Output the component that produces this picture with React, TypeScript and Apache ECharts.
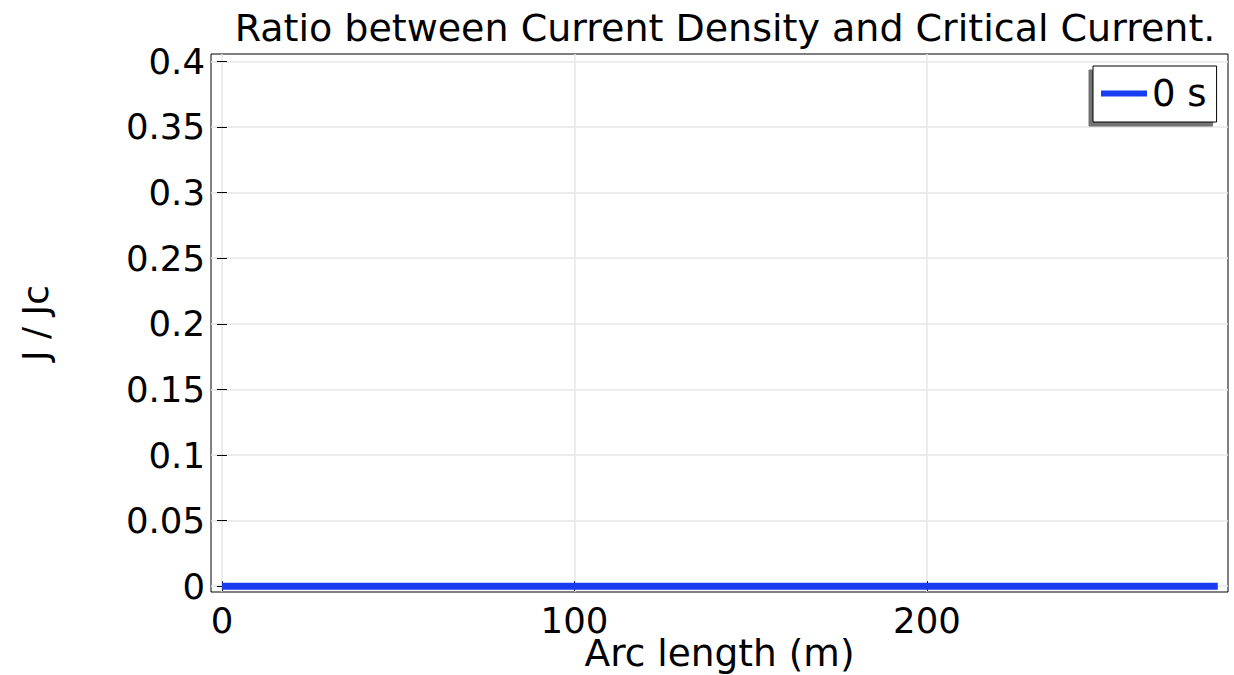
import React, { useEffect, useRef } from "react";
import * as echarts from "echarts";

// Arc length (m) along the conductor and J/Jc at t = 0 s
const arcLength: number[] = [0, 50, 100, 150, 200, 250, 282.5];
const ratio0s: number[] = [0, 0, 0, 0, 0, 0, 0];

const xTicks: number[] = [0, 100, 200];
const yTicks: number[] = [0, 0.05, 0.1, 0.15, 0.2, 0.25, 0.3, 0.35, 0.4];

const seriesName = "0 s";
const titleText = "Ratio between Current Density and Critical Current.";
const xName = "Arc length (m)";
const yName = "J / Jc";

const FONT = "DejaVu Sans";
const BLUE = "#1a3cf0";

export default function App() {
  const ref = useRef<HTMLDivElement>(null);

  useEffect(() => {
    if (!ref.current) return;
    const chart = echarts.init(ref.current, undefined, { renderer: "svg" });

    const xMin = -3.1;
    const xMax = 285.4;
    const yMin = -0.0044;
    const yMax = 0.4056;

    const fmtY = (v: number) => Number(v.toFixed(2)).toString();

    const baseX = {
      type: "value" as const,
      min: xMin,
      max: xMax,
      axisLine: { show: false },
      axisTick: { show: true, inside: true, length: 5, customValues: xTicks, lineStyle: { color: "#000" } },
    };
    const baseY = {
      type: "value" as const,
      min: yMin,
      max: yMax,
      axisLine: { show: false },
      axisTick: { show: true, inside: true, length: 5, customValues: yTicks, lineStyle: { color: "#000" } },
    };

    chart.setOption({
      animation: false,
      backgroundColor: "#ffffff",
      title: {
        text: titleText,
        left: 720,
        textAlign: "center",
        top: 4,
        textStyle: { fontFamily: FONT, fontSize: 38, fontWeight: "normal", color: "#000" },
      },
      grid: {
        left: 211,
        top: 54,
        width: 1017,
        height: 538,
        outerBoundsMode: "none",
        containLabel: false,
        show: true,
        borderColor: "#000",
        borderWidth: 1,
        backgroundColor: "transparent",
      },
      legend: {
        left: 1093,
        top: 66,
        data: [seriesName],
        itemWidth: 46,
        itemHeight: 6,
        itemGap: 0,
        padding: [9, 10, 10, 8],
        backgroundColor: "#fff",
        borderColor: "#000",
        borderWidth: 1,
        borderRadius: 0,
        shadowColor: "rgba(0,0,0,0.55)",
        shadowOffsetX: -4,
        shadowOffsetY: 4,
        shadowBlur: 0,
        icon: "rect",
        textStyle: { fontFamily: FONT, fontSize: 37, color: "#000", padding: [0, 0, 0, 0] },
      },
      xAxis: [
        {
          ...baseX,
          position: "bottom",
          name: xName,
          nameLocation: "middle",
          nameGap: 42,
          nameMoveOverlap: false,
          nameTextStyle: { fontFamily: FONT, fontSize: 37.5, color: "#000" },
          splitLine: { show: true, lineStyle: { color: "#e6e6e6", width: 1.5 } },
          axisLabel: {
            customValues: xTicks,
            margin: 10,
            fontFamily: FONT,
            fontSize: 35.5,
            color: "#000",
          },
        },
        {
          ...baseX,
          position: "top",
          splitLine: { show: false },
          axisLabel: { show: false },
        },
      ],
      yAxis: [
        {
          ...baseY,
          position: "left",
          name: yName,
          nameLocation: "middle",
          nameGap: 158,
          nameMoveOverlap: false,
          nameRotate: 90,
          nameTextStyle: { fontFamily: FONT, fontSize: 36, color: "#000" },
          splitLine: { show: true, lineStyle: { color: "#e6e6e6", width: 1.5 } },
          axisLabel: {
            customValues: yTicks,
            margin: 6,
            fontFamily: FONT,
            fontSize: 35.5,
            color: "#000",
            formatter: fmtY,
          },
        },
        {
          ...baseY,
          position: "right",
          splitLine: { show: false },
          axisLabel: { show: false },
        },
      ],
      series: [
        {
          name: seriesName,
          type: "line",
          xAxisIndex: 0,
          yAxisIndex: 0,
          data: arcLength.map((x, i) => [x, ratio0s[i]]),
          showSymbol: false,
          symbol: "none",
          lineStyle: { color: BLUE, width: 7, cap: "butt" },
          itemStyle: { color: BLUE },
          z: 3,
        },
      ],
    });

    return () => chart.dispose();
  }, []);

  return (
    <div
      ref={ref}
      style={{ position: "fixed", left: 0, top: 0, width: 1234, height: 675, background: "#fff" }}
    />
  );
}
